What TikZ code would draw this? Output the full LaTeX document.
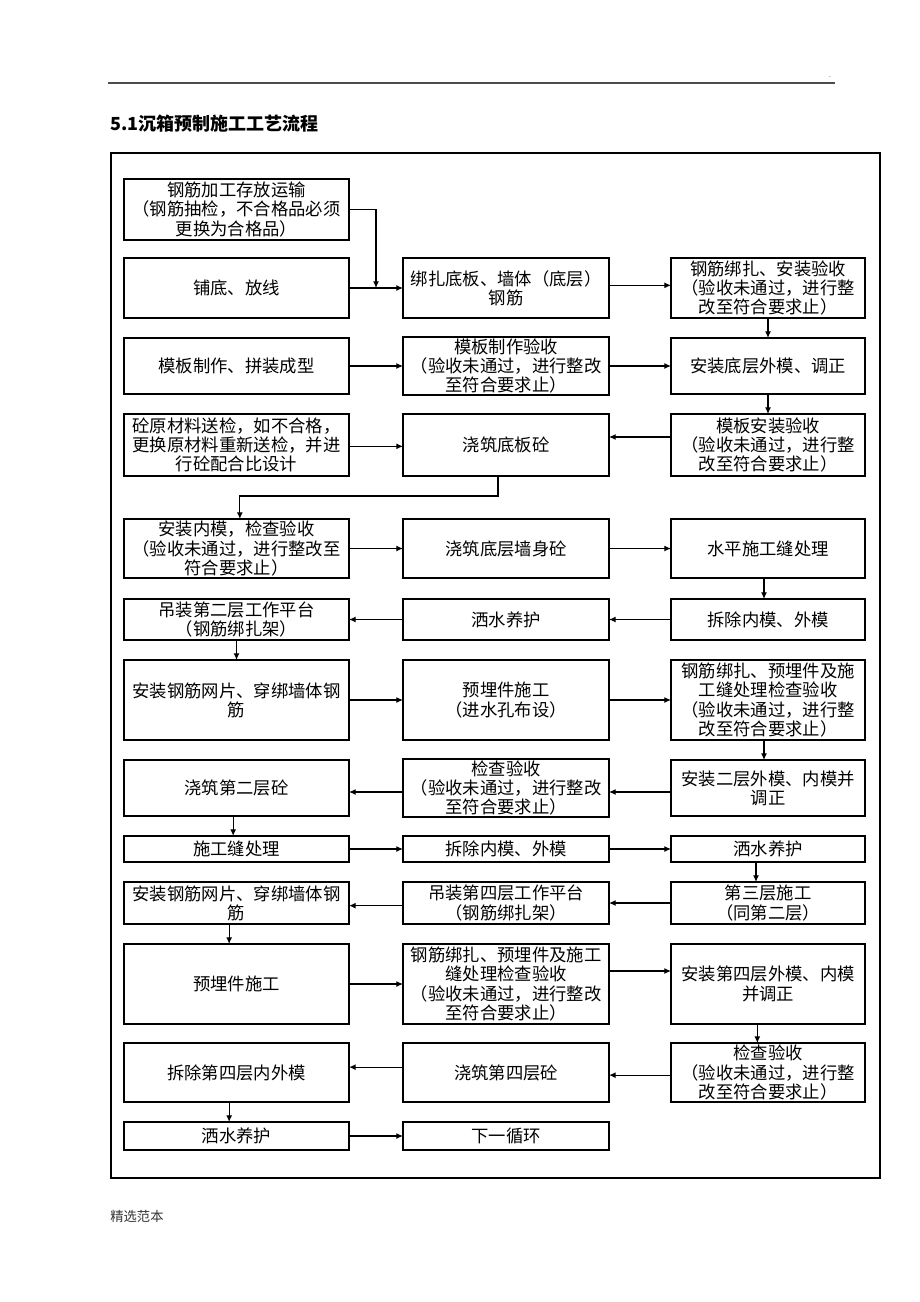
\documentclass[tikz,border=0pt]{standalone}
\usepackage{fontspec}
\setmainfont{Noto Sans CJK SC}
\usetikzlibrary{arrows.meta,positioning,calc}

\begin{document}
\begin{tikzpicture}
    [x=0.75pt, y=-0.75pt,
    stepbox/.style={rectangle, draw=black, line width=1.3pt, outer sep=0pt, align=center, inner xsep=2pt, inner ysep=1pt, font=\fontsize{13pt}{14.4pt}\selectfont},
    lcol/.style={stepbox, minimum width=168.75pt},
    mcol/.style={stepbox, minimum width=154.5pt},
    rcol/.style={stepbox, minimum width=145.5pt},
    flow/.style={-{Latex[length=5pt,width=4.5pt]}, line width=0.9pt}]

    \useasboundingbox (0,0) rectangle (920,1302);
    % page header, frame and footer
    \draw[black!70, line width=0.8pt] (108,83) -- (835,83);
    \node (dot) at (830,77) [font=\tiny, inner sep=0pt] {.};
    \node (title) at (110,124) [anchor=west, inner sep=0pt, font=\fontsize{13.5pt}{16pt}\selectfont\bfseries] {5.1沉箱预制施工工艺流程};
    \draw[line width=1.6pt] (111,153) rectangle (880,1178);
    \node (footer) at (110,1216) [anchor=west, inner sep=0pt, font=\fontsize{10pt}{12pt}\selectfont, text=black!80] {精选范本};

    % rows 1-2
    \node (r1l) at (236.5,209.5) [lcol, minimum height=45.75pt] {钢筋加工存放运输\\（钢筋抽检，不合格品必须\\更换为合格品）};
    \node (r2l) [lcol, minimum height=45pt, below=13.5pt of r1l] {铺底、放线};
    \node (r2m) [mcol, minimum height=45pt, right=40.5pt of r2l] {绑扎底板、墙体（底层）\\钢筋};
    \node (r2r) [rcol, minimum height=45pt, right=46.5pt of r2m] {钢筋绑扎、安装验收\\（验收未通过，进行整\\改至符合要求止）};
    \coordinate (join) at ($(r2l.east)!0.5!(r2m.west)$);
    \draw[flow] (r1l.east) -| (join);
    \draw[flow] (r2l.east) -- (r2m.west);
    \draw[flow] ([yshift=2pt]r2m.east) -- ([yshift=2pt]r2r.west);

    % row 3
    \node (r3l) [lcol, minimum height=42pt, below=15pt of r2l] {模板制作、拼装成型};
    \node (r3m) [mcol, minimum height=42pt, right=40.5pt of r3l] {模板制作验收\\（验收未通过，进行整改\\至符合要求止）};
    \node (r3r) [rcol, minimum height=42pt, right=46.5pt of r3m] {安装底层外模、调正};
    \draw[flow] (r2r.south) -- (r3r.north);
    \draw[flow] (r3l.east) -- (r3m.west);
    \draw[flow] (r3m.east) -- (r3r.west);

    % row 4
    \node (r4l) [lcol, minimum height=46.5pt, below=15pt of r3l] {砼原材料送检，如不合格，\\更换原材料重新送检，并进\\行砼配合比设计};
    \node (r4m) [mcol, minimum height=46.5pt, right=40.5pt of r4l] {浇筑底板砼};
    \node (r4r) [rcol, minimum height=46.5pt, right=46.5pt of r4m] {模板安装验收\\（验收未通过，进行整\\改至符合要求止）};
    \draw[flow] (r3r.south) -- (r4r.north);
    \draw[flow] ([yshift=-1pt]r4l.east) -- ([yshift=-1pt]r4m.west);
    \draw[flow] ([yshift=6pt]r4r.west) -- ([yshift=6pt]r4m.east);

    % row 5
    \node (r5l) [lcol, minimum height=44.25pt, below=32.25pt of r4l] {安装内模，检查验收\\（验收未通过，进行整改至\\符合要求止）};
    \node (r5m) [mcol, minimum height=44.25pt, right=40.5pt of r5l] {浇筑底层墙身砼};
    \node (r5r) [rcol, minimum height=44.25pt, right=46.5pt of r5m] {水平施工缝处理};
    \draw[flow] ([xshift=-6pt]r4m.south) -- ++(0,-15pt) -| ([xshift=2.5pt]r5l.north);
    \draw[flow] (r5l.east) -- (r5m.west);
    \draw[flow] (r5m.east) -- (r5r.west);

    % row 6
    \node (r6l) [lcol, minimum height=30.75pt, below=15.75pt of r5l] {吊装第二层工作平台\\（钢筋绑扎架）};
    \node (r6m) [mcol, minimum height=30.75pt, right=40.5pt of r6l] {洒水养护};
    \node (r6r) [rcol, minimum height=30.75pt, right=46.5pt of r6m] {拆除内模、外模};
    \draw[flow] ([xshift=-3pt]r5r.south) -- ([xshift=-3pt]r6r.north);
    \draw[flow] (r6r.west) -- (r6m.east);
    \draw[flow] (r6m.west) -- (r6l.east);

    % row 7
    \node (r7l) [lcol, minimum height=60pt, below=15pt of r6l] {安装钢筋网片、穿绑墙体钢\\筋};
    \node (r7m) [mcol, minimum height=60pt, right=40.5pt of r7l] {预埋件施工\\（进水孔布设）};
    \node (r7r) [rcol, minimum height=60pt, right=46.5pt of r7m] {钢筋绑扎、预埋件及施\\工缝处理检查验收\\（验收未通过，进行整\\改至符合要求止）};
    \draw[flow] (r6l.south) -- (r7l.north);
    \draw[flow] (r7l.east) -- (r7m.west);
    \draw[flow] (r7m.east) -- (r7r.west);

    % row 8
    \node (r8l) [lcol, minimum height=42pt, below=15pt of r7l] {浇筑第二层砼};
    \node (r8m) [mcol, minimum height=42pt, right=40.5pt of r8l] {检查验收\\（验收未通过，进行整改\\至符合要求止）};
    \node (r8r) [rcol, minimum height=42pt, right=46.5pt of r8m] {安装二层外模、内模并\\调正};
    \draw[flow] ([xshift=-3pt]r7r.south) -- ([xshift=-3pt]r8r.north);
    \draw[flow] ([yshift=-3pt]r8r.west) -- ([yshift=-3pt]r8m.east);
    \draw[flow] ([yshift=-3pt]r8m.west) -- ([yshift=-3pt]r8l.east);

    % row 9
    \node (r9l) [lcol, minimum height=19.5pt, below=15pt of r8l] {施工缝处理};
    \node (r9m) [mcol, minimum height=19.5pt, right=40.5pt of r9l] {拆除内模、外模};
    \node (r9r) [rcol, minimum height=19.5pt, right=46.5pt of r9m] {洒水养护};
    \draw[flow] ([xshift=-2.5pt]r8l.south) -- ([xshift=-2.5pt]r9l.north);
    \draw[flow] (r9l.east) -- (r9m.west);
    \draw[flow] (r9m.east) -- (r9r.west);

    % row 10
    \node (r10l) [lcol, minimum height=31.5pt, below=15pt of r9l] {安装钢筋网片、穿绑墙体钢\\筋};
    \node (r10m) [mcol, minimum height=31.5pt, right=40.5pt of r10l] {吊装第四层工作平台\\（钢筋绑扎架）};
    \node (r10r) [rcol, minimum height=31.5pt, right=46.5pt of r10m] {第三层施工\\（同第二层）};
    \draw[flow] ([xshift=-9pt]r9r.south) -- ([xshift=-9pt]r10r.north);
    \draw[flow] (r10r.west) -- (r10m.east);
    \draw[flow] ([yshift=-2pt]r10m.west) -- ([yshift=-2pt]r10l.east);

    % row 11
    \node (r11l) [lcol, minimum height=60pt, below=15pt of r10l] {预埋件施工};
    \node (r11m) [mcol, minimum height=60pt, right=40.5pt of r11l] {钢筋绑扎、预埋件及施工\\缝处理检查验收\\（验收未通过，进行整改\\至符合要求止）};
    \node (r11r) [rcol, minimum height=60pt, right=46.5pt of r11m] {安装第四层外模、内模\\并调正};
    \draw[flow] ([xshift=-5.5pt]r10l.south) -- ([xshift=-5.5pt]r11l.north);
    \draw[flow] (r11l.east) -- (r11m.west);
    \draw[flow] ([yshift=9.75pt]r11m.east) -- ([yshift=9.75pt]r11r.west);

    % row 12
    \node (r12l) [lcol, minimum height=44.25pt, below=14.25pt of r11l] {拆除第四层内外模};
    \node (r12m) [mcol, minimum height=44.25pt, right=40.5pt of r12l] {浇筑第四层砼};
    \node (r12r) [rcol, minimum height=44.25pt, right=46.5pt of r12m] {检查验收\\（验收未通过，进行整\\改至符合要求止）};
    \draw[flow] ([xshift=-8pt]r11r.south) -- ([xshift=-8pt]r12r.north);
    \draw[flow] ([yshift=-2pt]r12r.west) -- ([yshift=-2pt]r12m.east);
    \draw[flow] ([yshift=4pt]r12m.west) -- ([yshift=4pt]r12l.east);

    % row 13
    \node (r13l) [lcol, minimum height=21pt, below=15pt of r12l] {洒水养护};
    \node (r13m) [mcol, minimum height=21pt, right=40.5pt of r13l] {下一循环};
    \draw[flow] ([xshift=-5.5pt]r12l.south) -- ([xshift=-5.5pt]r13l.north);
    \draw[flow] (r13l.east) -- (r13m.west);

\end{tikzpicture}
\end{document}
